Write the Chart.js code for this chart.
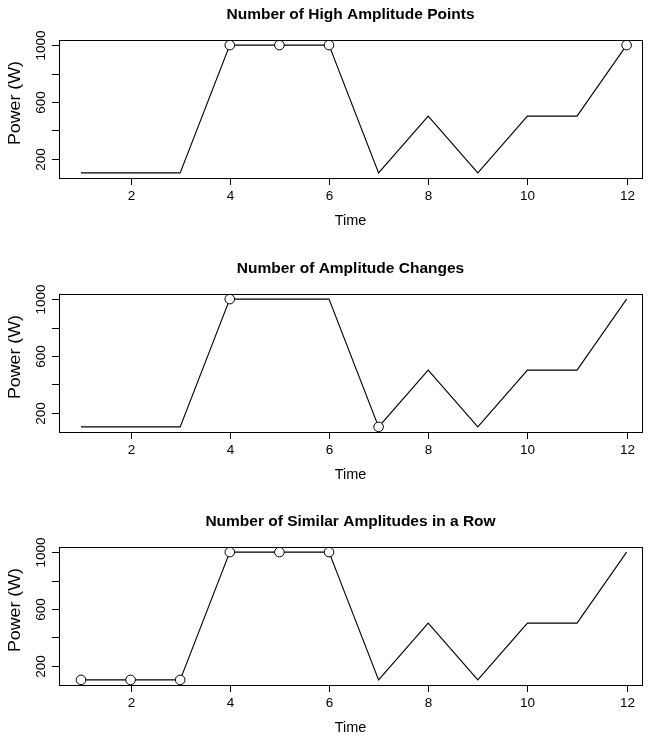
<!DOCTYPE html>
<html>
<head>
<meta charset="utf-8">
<script src="https://cdn.jsdelivr.net/npm/chart.js@4"></script>
<style>
  body { margin: 0; background: #fff; }
  .panel { position: absolute; left: 0; width: 648px; height: 246px; }
</style>
</head>
<body>
<div class="panel" style="top:0px"><canvas id="c1" width="648" height="246"></canvas></div>
<div class="panel" style="top:254px"><canvas id="c2" width="648" height="246"></canvas></div>
<div class="panel" style="top:507px"><canvas id="c3" width="648" height="246"></canvas></div>
<script>
// shared series
const times = [1, 2, 3, 4, 5, 6, 7, 8, 9, 10, 11, 12];
const power = [100, 100, 100, 1000, 1000, 1000, 100, 500, 100, 500, 500, 1000];

// highlighted points per panel (time values)
const highAmplitudeTimes = [4, 5, 6, 12];
const amplitudeChangeTimes = [4, 7];
const similarRowTimes = [1, 2, 3, 4, 5, 6];

const panelTitles = [
    'Number of High Amplitude Points',
    'Number of Amplitude Changes',
    'Number of Similar Amplitudes in a Row'
];

const xTicks = [2, 4, 6, 8, 10, 12];
const yTicks = [200, 400, 600, 800, 1000];
const yTickLabels = ['200', '', '600', '', '1000'];

const FONT = '"Liberation Sans", Arial, Helvetica, sans-serif';

/**
 * Draws the R-style frame, axes, tick labels and titles.
 */
const rAxes = {
    id: 'rAxes',
    afterDraw(chart, args, opts) {
        const ctx = chart.ctx;
        const area = chart.chartArea;
        const xs = chart.scales.x;
        const ys = chart.scales.y;
        ctx.save();
        ctx.strokeStyle = '#000';
        ctx.fillStyle = '#000';
        ctx.lineWidth = 1;
        ctx.strokeRect(Math.round(area.left) + 0.5, Math.round(area.top) + 0.5,
            Math.round(area.right - area.left), Math.round(area.bottom - area.top));

        // x axis ticks
        ctx.font = '13.5px ' + FONT;
        ctx.textAlign = 'center';
        ctx.textBaseline = 'middle';
        xTicks.forEach(t => {
            const px = Math.round(xs.getPixelForValue(t)) + 0.5;
            ctx.beginPath();
            ctx.moveTo(px, area.bottom);
            ctx.lineTo(px, area.bottom + 7);
            ctx.stroke();
            ctx.fillText(String(t), px, area.bottom + 18);
        });
        ctx.font = '14.5px ' + FONT;
        ctx.fillText('Time', (area.left + area.right) / 2, area.bottom + 43);

        // y axis ticks
        yTicks.forEach((t, i) => {
            const py = Math.round(ys.getPixelForValue(t)) + 0.5;
            ctx.beginPath();
            ctx.moveTo(area.left, py);
            ctx.lineTo(area.left - 7, py);
            ctx.stroke();
            if (yTickLabels[i]) {
                ctx.save();
                ctx.translate(area.left - 18, py);
                ctx.rotate(-Math.PI / 2);
                ctx.font = '13.5px ' + FONT;
                ctx.fillText(yTickLabels[i], 0, 0);
                ctx.restore();
            }
        });
        ctx.save();
        ctx.translate(15, (area.top + area.bottom) / 2 - 6);
        ctx.rotate(-Math.PI / 2);
        ctx.font = '16.5px ' + FONT;
        const w = ctx.measureText('Power (W)').width;
        ctx.scale(84 / w, 1);
        ctx.fillText('Power (W)', 0, 0);
        ctx.restore();

        // title
        ctx.font = 'bold 15.5px ' + FONT;
        ctx.fillText(opts.text, (area.left + area.right) / 2, 15);
        ctx.restore();
    }
};

function drawPanel(id, title, markedTimes) {
    const ctx = document.getElementById(id);
    const lineData = times.map((t, i) => ({ x: t, y: power[i] }));
    const markData = markedTimes.map(t => ({ x: t, y: power[times.indexOf(t)] }));
    return new Chart(ctx, {
        type: 'scatter',
        data: {
            datasets: [{
                data: markData,
                showLine: false,
                pointStyle: 'circle',
                pointRadius: 4.8,
                borderColor: '#000',
                borderWidth: 1,
                backgroundColor: '#fff'
            }, {
                data: lineData,
                showLine: true,
                borderColor: '#000',
                borderWidth: 1.1,
                pointRadius: 0,
                tension: 0
            }]
        },
        options: {
            responsive: false,
            animation: false,
            layout: { padding: { left: 59, right: 6, top: 40, bottom: 68 } },
            scales: {
                x: { type: 'linear', display: false, min: 0.557, max: 12.31 },
                y: { type: 'linear', display: false, min: 64, max: 1036 }
            },
            plugins: {
                legend: { display: false },
                tooltip: { enabled: false },
                rAxes: { text: title }
            }
        },
        plugins: [rAxes]
    });
}

drawPanel('c1', panelTitles[0], highAmplitudeTimes);
drawPanel('c2', panelTitles[1], amplitudeChangeTimes);
drawPanel('c3', panelTitles[2], similarRowTimes);
</script>
</body>
</html>
